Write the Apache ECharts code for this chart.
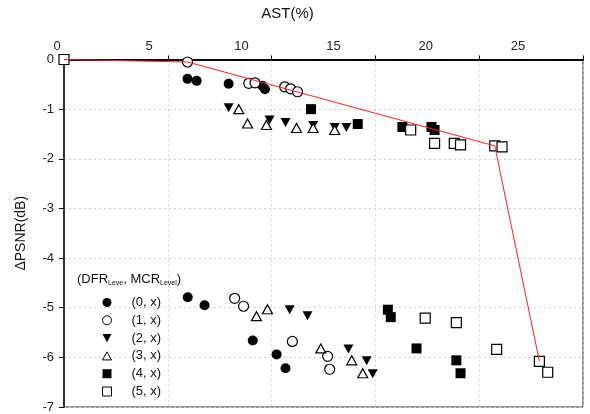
<!DOCTYPE html>
<html><head><meta charset="utf-8">
<script src="https://cdn.jsdelivr.net/npm/echarts@6/dist/echarts.min.js"></script>
<style>html,body{margin:0;padding:0;background:#fff}#c{width:590px;height:414px}</style>
</head><body><div id="c"></div>
<script>
const legendNames = ['(0, x)','(1, x)','(2, x)','(3, x)','(4, x)','(5, x)'];
const s0 = [[5.95,-0.39],[6.39,-0.43],[7.93,-0.49],[9.55,-0.53],[9.68,-0.6],[5.96,-4.79],[6.77,-4.95],[9.09,-5.66],[10.24,-5.94],[10.67,-6.22]];
const s1 = [[5.95,-0.05],[8.9,-0.48],[9.2,-0.47],[10.63,-0.55],[10.92,-0.59],[11.25,-0.65],[8.22,-4.81],[8.65,-4.97],[11.0,-5.68],[12.7,-5.98],[12.8,-6.24]];
const s2 = [[7.93,-0.97],[9.9,-1.22],[10.67,-1.27],[12.0,-1.33],[13.04,-1.37],[13.6,-1.37],[10.87,-5.04],[11.73,-5.16],[13.7,-5.83],[14.58,-6.07],[14.87,-6.33]];
const s3 = [[8.42,-1.0],[8.84,-1.29],[9.75,-1.32],[11.2,-1.38],[12.0,-1.38],[13.04,-1.42],[9.27,-5.17],[9.8,-5.03],[12.37,-5.82],[13.86,-6.06],[14.39,-6.32]];
const s4 = [[11.9,-1.0],[14.15,-1.3],[16.3,-1.36],[17.7,-1.36],[17.85,-1.42],[15.6,-5.04],[15.74,-5.19],[16.98,-5.82],[18.9,-6.06],[19.1,-6.32]];
const s5 = [[0,0],[16.7,-1.42],[17.85,-1.69],[18.8,-1.69],[19.1,-1.72],[20.75,-1.74],[21.1,-1.76],[17.4,-5.21],[18.9,-5.3],[20.84,-5.84],[22.9,-6.08],[23.3,-6.3]];
const frontier = [[0,0],[5.95,-0.05],[20.75,-1.74],[22.9,-6.08]];

const FONT = 'Liberation Sans';
const filled = {color:'#000', opacity:1};
const open = {color:'#fff', borderColor:'#000', borderWidth:1.2, opacity:1};
const downTri = 'path://M0,0 L10,0 L5,9 Z';
const upTri = 'path://M5,0 L10,9 L0,9 Z';
const specs = [
  {data:s0, symbol:'circle', size:10, style:filled},
  {data:s1, symbol:'circle', size:10, style:open},
  {data:s2, symbol:downTri, size:[10,9], style:filled},
  {data:s3, symbol:upTri, size:[10,9], style:open},
  {data:s4, symbol:'rect', size:10, style:filled},
  {data:s5, symbol:'rect', size:10, style:open}
];
const series = specs.map((s,i)=>({
  type:'scatter', name:legendNames[i], xAxisIndex:0, yAxisIndex:0,
  data:s.data, symbol:s.symbol, symbolSize:s.size,
  itemStyle:s.style, z:3
}));
series.push({type:'line', name:'frontier', data:frontier, xAxisIndex:0, yAxisIndex:0,
  showSymbol:false, symbol:'none', lineStyle:{color:'#ff2020', width:1}, z:4, silent:true});

const chart = echarts.init(document.getElementById('c'));
chart.setOption({
  animation:false,
  backgroundColor:'#fff',
  textStyle:{fontFamily:FONT},
  title:{
    text:'(DFR{sub|Leve}, MCR{sub|Level})',
    left:72, top:267,
    textStyle:{fontFamily:FONT, fontSize:13, fontWeight:'normal', color:'#111',
      rich:{sub:{fontSize:7, fontFamily:FONT, color:'#111', padding:[8,0,0,0]}}}
  },
  legend:{
    orient:'vertical', left:102, top:296, padding:0,
    itemWidth:9, itemHeight:9, itemGap:4.8,
    data:legendNames,
    itemStyle:{borderWidth:1, opacity:1},
    textStyle:{fontFamily:FONT, fontSize:13, color:'#111', padding:[0,0,0,15]}
  },
  grid:[
    {left:64, right:7, top:59.5, bottom:7, show:true, borderColor:'#333', borderWidth:1},
    {left:57, right:72, top:59.5, bottom:7}
  ],
  xAxis:[
    {type:'value', gridIndex:0, position:'bottom', min:0, max:25, interval:5,
     axisLine:{show:true, lineStyle:{color:'#000', width:1.5}},
     axisTick:{show:true, inside:true, length:4, lineStyle:{color:'#000'}},
     axisLabel:{show:false},
     splitLine:{show:true, lineStyle:{color:'#d0d0d0', type:[2,3]}}},
    {type:'value', gridIndex:1, position:'top', min:0, max:25, interval:5,
     name:'AST(%)', nameLocation:'middle', nameGap:38,
     nameTextStyle:{fontFamily:FONT, fontSize:15, color:'#111'},
     axisLine:{show:false}, axisTick:{show:false},
     axisLabel:{show:true, margin:7, fontFamily:FONT, fontSize:13, color:'#222'},
     splitLine:{show:false}},
    {type:'value', gridIndex:0, position:'top', min:0, max:25, interval:5,
     axisLine:{show:true, lineStyle:{color:'#000', width:1.5}},
     axisTick:{show:false}, axisLabel:{show:false}, splitLine:{show:false}}
  ],
  yAxis:[
    {type:'value', gridIndex:0, min:-7, max:0, interval:1,
     name:'ΔPSNR(dB)', nameLocation:'middle', nameGap:36, nameRotate:90,
     nameTextStyle:{fontFamily:FONT, fontSize:14, color:'#111'},
     axisLine:{show:true, lineStyle:{color:'#333', width:2}},
     axisTick:{show:true, inside:false, length:5, lineStyle:{color:'#000'}},
     axisLabel:{show:true, margin:10, fontFamily:FONT, fontSize:13, color:'#222'},
     splitLine:{show:true, lineStyle:{color:'#d0d0d0', type:[2,3]}}},
    {type:'value', gridIndex:1, min:-7, max:0, show:false,
     splitLine:{show:false}, axisLine:{show:false}, axisTick:{show:false}, axisLabel:{show:false}}
  ],
  series:series
});
</script>
</body></html>
